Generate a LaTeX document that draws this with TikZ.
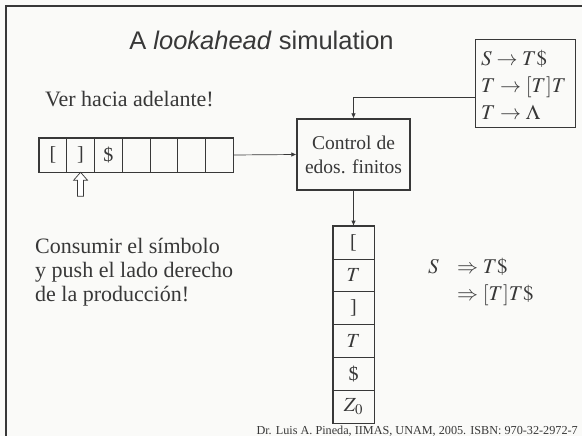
\documentclass[tikz,border=0pt]{standalone}
\usepackage{mathptmx}
\usepackage{fontspec}
\setmainfont{Liberation Serif}
\newfontfamily\titlefont{Liberation Sans}
\usetikzlibrary{arrows.meta}
\definecolor{bg}{HTML}{FAFAF8}
\definecolor{ink}{HTML}{383838}
\begin{document}
\begin{tikzpicture}[x=1pt,y=-1pt,
  txt/.style={text=ink, inner sep=0pt, anchor=base west},
  tapecell/.style={draw=ink, line width=0.6pt, minimum width=27.71pt, minimum height=34pt, inner sep=0pt, text=ink, font=\fontsize{20}{24}\selectfont},
  stackcell/.style={draw=ink, line width=0.6pt, minimum width=41pt, minimum height=32.83pt, inner sep=0pt, text=ink, font=\fontsize{20}{24}\selectfont},
  outline/.style={draw=ink, line width=1.3pt},
  conn/.style={draw=ink, line width=0.7pt, -{Latex[length=5pt,width=4.5pt]}},
  big/.style={font=\fontsize{22}{24}\selectfont},
  mathtxt/.style={font=\fontsize{21}{24}\selectfont}]
% background and frame
\fill[bg] (0,0) rectangle (582,436);
\useasboundingbox (0,0) rectangle (582,436);
\draw[ink, line width=2.6pt] (582,6) -- (6,6) -- (6,436);
% title
\node[text=ink, inner sep=0pt, anchor=base, font=\titlefont\fontsize{25.5}{30}\selectfont] (title) at (261.5,50) {A \textit{lookahead} simulation};
% grammar box
\node[outline, line width=1pt, minimum width=100pt, minimum height=88pt, inner sep=0pt] (grammar) at (525,84) {};
\node[txt, mathtxt] (g1) at (481,66) {$S \rightarrow T\$$};
\node[txt, mathtxt] (g2) at (481,93) {$T \rightarrow [T]T$};
\node[txt, mathtxt] (g3) at (481,120) {$T \rightarrow \Lambda$};
% left text
\node[txt, big] (ver) at (45,107) {Ver hacia adelante!};
% tape
\node[tapecell] (t0) at (52.86,155) {[};
\node[tapecell] (t1) at (80.57,155) {]};
\node[tapecell] (t2) at (108.29,155) {\$};
\node[tapecell] (t3) at (136.00,155) {};
\node[tapecell] (t4) at (163.71,155) {};
\node[tapecell] (t5) at (191.43,155) {};
\node[tapecell] (t6) at (219.14,155) {};
\draw[outline] (t0.north west) rectangle (t6.south east);
% hollow arrow under the tape
\begin{scope}[shift={(t1.south)}]
\draw[ink, line width=0.7pt, fill=white] (0,0) -- (7,8) -- (3,8) -- (3,24) -- (-3,24) -- (-3,8) -- (-7,8) -- cycle;
\end{scope}
% control box
\node[outline, minimum width=113pt, minimum height=71pt, inner sep=0pt, align=center, text=ink, font=\fontsize{19.5}{24}\selectfont] (ctrl) at (353.5,154.5) {Control de\\edos. finitos};
% stack
\node[stackcell] (s1) at (353.5,242.42) {[};
\node[stackcell] (s2) at (353.5,275.25) {$T$};
\node[stackcell] (s3) at (353.5,308.08) {]};
\node[stackcell] (s4) at (353.5,340.92) {$T$};
\node[stackcell] (s5) at (353.5,373.75) {\$};
\node[stackcell] (s6) at (353.5,406.58) {$Z_0$};
\draw[outline] (s1.north west) rectangle (s6.south east);
% connectors
\draw[conn] (t6.east) -- (ctrl.west);
\draw[conn] (grammar.west |- 0,97) -| (ctrl.north);
\draw[conn] (ctrl.south) -- (s1.north);
% consumir text
\node[txt, big] (c1) at (35,253) {Consumir el símbolo};
\node[txt, big] (c2) at (35,277) {y push el lado derecho};
\node[txt, big] (c3) at (35,301) {de la producción!};
% derivation
\node[txt, mathtxt] (dS) at (428,273) {$S$};
\node[txt, mathtxt] (d1) at (457,273) {$\Rightarrow T\$$};
\node[txt, mathtxt] (d2) at (457,300) {$\Rightarrow [T]T\$$};
% footer
\node[text=ink, inner sep=0pt, anchor=base east, font=\fontsize{12.2}{14}\selectfont] (footer) at (578,434) {Dr. Luis A. Pineda, IIMAS, UNAM, 2005. ISBN: 970-32-2972-7};
\end{tikzpicture}
\end{document}
